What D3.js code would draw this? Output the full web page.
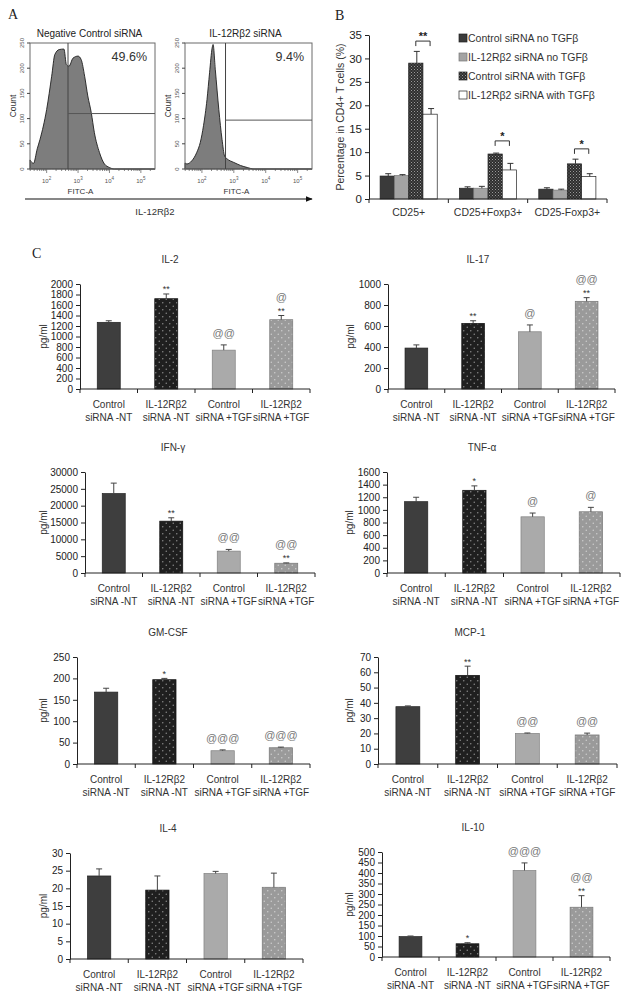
<!DOCTYPE html>
<html><head><meta charset="utf-8">
<script src="https://cdn.jsdelivr.net/npm/d3@7"></script>
<style>
body{margin:0;background:#fff}
svg{display:block}
text{font-family:"Liberation Sans",Arial,sans-serif;fill:#222}
</style>
</head><body>
<svg id="c" width="626" height="999"></svg>
<script>
// ---------- Panel A data ----------
const histLeftLog   = [1.47,1.53,1.58,1.70,1.79,2.00,2.16,2.26,2.40,2.55,2.63,2.71,2.84,3.00,3.10,3.21,3.31,3.42,3.52,3.68,3.84,4.00,4.15,5.45];
const histLeftCount = [18,13,11,40,59,118,184,227,237,238,207,204,220,224,217,184,145,112,72,33,10,3,0,0];
const histRightLog   = [1.47,1.53,1.68,1.84,1.95,2.05,2.16,2.24,2.32,2.35,2.42,2.53,2.63,2.71,2.79,2.89,3.00,3.21,3.42,3.63,5.45];
const histRightCount = [12,10,16,33,53,86,138,191,240,247,197,118,59,26,20,16,13,7,3,0,0];
const histTitles = ["Negative Control siRNA","IL-12Rβ2  siRNA"];
const histPercents = ["49.6%","9.4%"];
const gateLogs = [2.68,2.74];
const gateCounts = [110,97];
const histCountTicks = [0,50,100,150,200,250];
const histDecades = [2,3,4,5];

// ---------- Panel B data ----------
const bCategories = ["CD25+","CD25+Foxp3+","CD25-Foxp3+"];
const bSeries = ["Control siRNA no TGFβ","IL-12Rβ2 siRNA no TGFβ","Control siRNA with TGFβ","IL-12Rβ2 siRNA with TGFβ"];
const bCtrlNo = [4.9,2.3,2.1],   bCtrlNoErr = [0.5,0.3,0.3];
const bIl12No = [5.0,2.3,1.9],   bIl12NoErr = [0.2,0.4,0.2];
const bCtrlTgf = [29.0,9.6,7.5], bCtrlTgfErr = [2.5,0.2,1.0];
const bIl12Tgf = [18.1,6.2,4.8], bIl12TgfErr = [1.2,1.4,0.6];
const bBracketLevels = [33.7,12.4,10.7];
const bBracketLabels = ["**","*","*"];
const bTicks = [0,5,10,15,20,25,30,35];

// ---------- Panel C data ----------
const cytoLine1 = ["Control","IL-12Rβ2","Control","IL-12Rβ2"];
const cytoLine2 = ["siRNA -NT","siRNA -NT","siRNA +TGF","siRNA +TGF"];

const il2Values = [1270,1720,740,1320], il2Errors = [30,90,100,80];
const il2Stars = ["","**","","**"], il2Ats = ["","","@@","@"];
const il2Ticks = [0,200,400,600,800,1000,1200,1400,1600,1800,2000];

const il17Values = [390,625,545,835], il17Errors = [30,25,65,35];
const il17Stars = ["","**","","**"], il17Ats = ["","","@","@@"];
const il17Ticks = [0,200,400,600,800,1000];

const ifnValues = [23600,15400,6500,2900], ifnErrors = [3100,1000,500,100];
const ifnStars = ["","**","","**"], ifnAts = ["","","@@","@@"];
const ifnTicks = [0,5000,10000,15000,20000,25000,30000];

const tnfValues = [1130,1310,890,970], tnfErrors = [70,70,60,70];
const tnfStars = ["","*","",""], tnfAts = ["","","@","@"];
const tnfTicks = [0,200,400,600,800,1000,1200,1400,1600];

const gmValues = [168,197,31,38], gmErrors = [9,3,2,1.5];
const gmStars = ["","*","",""], gmAts = ["","","@@@","@@@"];
const gmTicks = [0,50,100,150,200,250];

const mcpValues = [37.5,58,20,19], mcpErrors = [0.5,6,0.3,1.2];
const mcpStars = ["","**","",""], mcpAts = ["","","@@","@@"];
const mcpTicks = [0,10,20,30,40,50,60,70];

const il4Values = [23.5,19.5,24.2,20.3], il4Errors = [2,4,0.6,4];
const il4Stars = ["","","",""], il4Ats = ["","","",""];
const il4Ticks = [0,5,10,15,20,25,30];

const il10Values = [97,63,412,237], il10Errors = [3,5,36,55];
const il10Stars = ["","*","","**"], il10Ats = ["","","@@@","@@"];
const il10Ticks = [0,50,100,150,200,250,300,350,400,450,500];

// ---------- drawing ----------
const svg = d3.select("#c");
svg.append("rect").attr("width",626).attr("height",999).attr("fill","#fff");
const defs = svg.append("defs");

function dotPattern(id,bg,dot){
  const p = defs.append("pattern").attr("id",id).attr("patternUnits","userSpaceOnUse").attr("width",7).attr("height",7);
  p.append("rect").attr("width",7).attr("height",7).attr("fill",bg);
  p.append("circle").attr("cx",1.75).attr("cy",1.75).attr("r",0.75).attr("fill",dot);
  p.append("circle").attr("cx",5.25).attr("cy",5.25).attr("r",0.75).attr("fill",dot);
}
dotPattern("dotsDark","#1f1f1f","#8a8a8a");
dotPattern("dotsGrey","#9a9a9a","#cfcfcf");
{
  const p = defs.append("pattern").attr("id","checker").attr("patternUnits","userSpaceOnUse").attr("width",3).attr("height",3);
  p.append("rect").attr("width",3).attr("height",3).attr("fill","#2e2e2e");
  p.append("rect").attr("x",0).attr("y",0).attr("width",1).attr("height",1).attr("fill","#9a9a9a");
  p.append("rect").attr("x",1.5).attr("y",1.5).attr("width",1).attr("height",1).attr("fill","#7a7a7a");
}
defs.append("marker").attr("id","arrow").attr("viewBox","0 0 10 10").attr("refX",9).attr("refY",5)
  .attr("markerWidth",6).attr("markerHeight",6).attr("orient","auto")
  .append("path").attr("d","M0,1 L10,5 L0,9 z").attr("fill","#111");

// Panel labels
svg.append("text").attr("x",8).attr("y",19).text("A").style("font-family","'Liberation Serif',serif").style("font-size","14px");
svg.append("text").attr("x",335).attr("y",20).text("B").style("font-family","'Liberation Serif',serif").style("font-size","14px");
svg.append("text").attr("x",32).attr("y",258).text("C").style("font-family","'Liberation Serif',serif").style("font-size","14px");

// ---------- Panel A ----------
const histLayouts = [
  {left:30,right:155,top:43,bottom:169,logs:histLeftLog,counts:histLeftCount},
  {left:185,right:312,top:43,bottom:169,logs:histRightLog,counts:histRightCount}
];
histLayouts.forEach((o,i)=>{
  const x = d3.scaleLinear().domain([1.47,5.45]).range([o.left,o.right]);
  const y = d3.scaleLinear().domain([0,250]).range([o.bottom,o.top]);
  const g = svg.append("g");
  const area = d3.area().x(d=>x(d[0])).y0(y(0)).y1(d=>y(d[1])).curve(d3.curveMonotoneX);
  g.append("path").datum(d3.zip(o.logs,o.counts)).attr("d",area)
    .attr("fill","#7d7d7d").attr("stroke","#1e1e1e").attr("stroke-width",0.9);
  g.append("rect").attr("x",o.left).attr("y",o.top).attr("width",o.right-o.left).attr("height",o.bottom-o.top)
    .attr("fill","none").attr("stroke","#6a6a6a").attr("stroke-width",1);
  g.append("line").attr("x1",x(gateLogs[i])).attr("x2",x(gateLogs[i])).attr("y1",o.top).attr("y2",o.bottom)
    .attr("stroke","#444").attr("stroke-width",1);
  g.append("line").attr("x1",x(gateLogs[i])).attr("x2",o.right).attr("y1",y(gateCounts[i])).attr("y2",y(gateCounts[i]))
    .attr("stroke","#555").attr("stroke-width",1);
  g.append("text").attr("x",o.right-8).attr("y",o.top+18).attr("text-anchor","end")
    .style("font-size","12.5px").style("fill","#333").text(histPercents[i]);
  g.append("text").attr("x",(o.left+o.right)/2-3).attr("y",o.top-6).attr("text-anchor","middle")
    .style("font-size","10px").text(histTitles[i]);
  histCountTicks.forEach(t=>{
    g.append("line").attr("x1",o.left-3).attr("x2",o.left).attr("y1",y(t)).attr("y2",y(t)).attr("stroke","#444");
    g.append("text").attr("transform",`translate(${o.left-6},${y(t)}) rotate(-90)`).attr("text-anchor","middle")
      .style("font-size","6px").style("fill","#555").text(t);
  });
  g.append("text").attr("transform",`translate(${o.left-14},${(o.top+o.bottom)/2}) rotate(-90)`).attr("text-anchor","middle")
    .style("font-size","8.5px").style("fill","#333").text("Count");
  for(let d=1; d<=5; d++){
    for(let m=1;m<10;m++){
      const v = d+Math.log10(m);
      if(v<1.47||v>5.45) continue;
      const len = m===1?4:2;
      g.append("line").attr("x1",x(v)).attr("x2",x(v)).attr("y1",o.bottom).attr("y2",o.bottom+len).attr("stroke","#555").attr("stroke-width",0.7);
    }
  }
  histDecades.forEach(d=>{
    const t = g.append("text").attr("x",x(d)).attr("y",o.bottom+14).attr("text-anchor","middle").style("font-size","6px").style("fill","#555");
    t.append("tspan").text("10");
    t.append("tspan").attr("dy",-3).style("font-size","4.5px").text(d);
  });
  g.append("text").attr("x",(o.left+o.right)/2-12).attr("y",o.bottom+25).attr("text-anchor","middle")
    .style("font-size","8px").style("fill","#333").text("FITC-A");
});
svg.append("line").attr("x1",25).attr("x2",312).attr("y1",199).attr("y2",199)
  .attr("stroke","#111").attr("stroke-width",1.2).attr("marker-end","url(#arrow)");
svg.append("text").attr("x",155).attr("y",215).attr("text-anchor","middle").style("font-size","9.5px").style("fill","#333").text("IL-12Rβ2");

// ---------- Panel B ----------
{
  const g = svg.append("g");
  const left=369,right=607,y0=199,top=35;
  const x0 = d3.scaleBand().domain(bCategories).range([left,right]).paddingInner(0.28).paddingOuter(0.14);
  const x1 = d3.scaleBand().domain(d3.range(4)).range([0,x0.bandwidth()]);
  const y = d3.scaleLinear().domain([0,35]).range([y0,top]);
  const vals = [bCtrlNo,bIl12No,bCtrlTgf,bIl12Tgf];
  const errs = [bCtrlNoErr,bIl12NoErr,bCtrlTgfErr,bIl12TgfErr];
  const fills = ["#3a3a3a","#a3a3a3","url(#checker)","#ffffff"];
  const strokes = ["#222","#777","#222","#222"];
  bCategories.forEach((c,ci)=>{
    vals.forEach((s,si)=>{
      const bx = x0(c)+x1(si);
      g.append("rect").attr("x",bx).attr("y",y(s[ci])).attr("width",x1.bandwidth()).attr("height",y0-y(s[ci]))
        .attr("fill",fills[si]).attr("stroke",strokes[si]).attr("stroke-width",0.7);
      const cx = bx+x1.bandwidth()/2+1, et = y(s[ci]+errs[si][ci]);
      g.append("line").attr("x1",cx).attr("x2",cx).attr("y1",y(s[ci])).attr("y2",et).attr("stroke","#333");
      g.append("line").attr("x1",cx-3).attr("x2",cx+3).attr("y1",et).attr("y2",et).attr("stroke","#333");
    });
    const xa = x0(c)+x1(2)+x1.bandwidth()/2, xb = x0(c)+x1(3)+x1.bandwidth()/2;
    const by = y(bBracketLevels[ci]);
    g.append("path").attr("d",`M${xa},${by+5}V${by}H${xb}V${by+5}`).attr("fill","none").attr("stroke","#333");
    g.append("text").attr("x",(xa+xb)/2).attr("y",by-1).attr("text-anchor","middle").style("font-size","11px").style("font-weight","bold").text(bBracketLabels[ci]);
    g.append("text").attr("x",x0(c)+x0.bandwidth()/2).attr("y",216).attr("text-anchor","middle").style("font-size","10.5px").style("fill","#333").text(c);
  });
  const ax = g.append("g").attr("transform",`translate(${left},0)`)
    .call(d3.axisLeft(y).tickValues(bTicks).tickFormat(d3.format("d")).tickSize(4).tickSizeOuter(0).tickPadding(3));
  ax.selectAll("text").style("font-size","11.5px").style("font-family","'Liberation Sans',Arial,sans-serif").attr("fill","#333");
  ax.selectAll("line,path").attr("stroke","#222");
  g.append("line").attr("x1",left).attr("x2",right).attr("y1",y0).attr("y2",y0).attr("stroke","#222");
  const bounds = [left, ...bCategories.map(c=>x0(c)+x0.bandwidth()+x0.step()*0.14)];
  bounds.forEach(b=>g.append("line").attr("x1",b).attr("x2",b).attr("y1",y0).attr("y2",y0+4).attr("stroke","#222"));
  g.append("text").attr("transform",`translate(${left-25},${(y0+top)/2}) rotate(-90)`).attr("text-anchor","middle")
    .style("font-size","10.5px").style("fill","#333").text("Percentage in CD4+ T cells (%)");
  bSeries.forEach((s,i)=>{
    const ly = 38+i*19;
    g.append("rect").attr("x",459).attr("y",ly-4).attr("width",8).attr("height",8)
      .attr("fill",fills[i]).attr("stroke",strokes[i]).attr("stroke-width",0.7);
    g.append("text").attr("x",468).attr("y",ly+4).style("font-size","10.5px").style("fill","#333").text(s);
  });
}

// ---------- Panel C ----------
const cytoPanels = [
  {title:"IL-2",  tx:170,left:80, right:310,y0:389,top:284,max:2000, ticks:il2Ticks, v:il2Values, e:il2Errors, s:il2Stars, a:il2Ats, yl:43},
  {title:"IL-17", tx:478,left:388,right:615,y0:389,top:284,max:1000, ticks:il17Ticks,v:il17Values,e:il17Errors,s:il17Stars,a:il17Ats,yl:350},
  {title:"IFN-γ", tx:173,left:85, right:315,y0:573,top:472,max:30000,ticks:ifnTicks, v:ifnValues, e:ifnErrors, s:ifnStars, a:ifnAts, yl:43},
  {title:"TNF-α", tx:482,left:387,right:620,y0:573,top:472,max:1600, ticks:tnfTicks, v:tnfValues, e:tnfErrors, s:tnfStars, a:tnfAts, yl:349},
  {title:"GM-CSF",tx:168,left:77, right:310,y0:764,top:657,max:250,  ticks:gmTicks,  v:gmValues,  e:gmErrors,  s:gmStars,  a:gmAts,  yl:43},
  {title:"MCP-1", tx:470,left:378,right:617,y0:764,top:657,max:70,   ticks:mcpTicks, v:mcpValues, e:mcpErrors, s:mcpStars, a:mcpAts, yl:349},
  {title:"IL-4",  tx:168,left:70, right:303,y0:959,top:853,max:30,   ticks:il4Ticks, v:il4Values, e:il4Errors, s:il4Stars, a:il4Ats, yl:43},
  {title:"IL-10", tx:473,left:382,right:610,y0:957,top:852,max:500,  ticks:il10Ticks,v:il10Values,e:il10Errors,s:il10Stars,a:il10Ats,yl:349}
];
const cFills = ["#3e3e3e","url(#dotsDark)","#aaaaaa","url(#dotsGrey)"];
const cStrokes = ["#222","#111","#808080","#777"];
cytoPanels.forEach(p=>{
  const g = svg.append("g");
  const x = d3.scaleBand().domain(d3.range(4)).range([p.left,p.right]).paddingInner(0.6).paddingOuter(0.3);
  const y = d3.scaleLinear().domain([0,p.max]).range([p.y0,p.top]);
  g.append("text").attr("x",p.tx).attr("y",p.top-21).attr("text-anchor","middle").style("font-size","10px").style("fill","#333").text(p.title);
  p.v.forEach((v,i)=>{
    const bx = x(i), cx = bx+x.bandwidth()/2;
    g.append("rect").attr("x",bx).attr("y",y(v)).attr("width",x.bandwidth()).attr("height",p.y0-y(v))
      .attr("fill",cFills[i]).attr("stroke",cStrokes[i]).attr("stroke-width",0.7);
    const et = y(v+p.e[i]);
    g.append("line").attr("x1",cx).attr("x2",cx).attr("y1",y(v)).attr("y2",et).attr("stroke","#444");
    g.append("line").attr("x1",cx-3).attr("x2",cx+3).attr("y1",et).attr("y2",et).attr("stroke","#444");
    if(p.s[i]) g.append("text").attr("x",cx).attr("y",et-1.5).attr("text-anchor","middle").style("font-size","9px").style("fill","#333").text(p.s[i]);
    if(p.a[i]) g.append("text").attr("x",cx).attr("y",et-(p.s[i]?15:8)).attr("text-anchor","middle")
      .style("font-size","11px").style("fill","#777").text(p.a[i]);
    g.append("text").attr("x",cx).attr("y",p.y0+19).attr("text-anchor","middle").style("font-size","10px").style("fill","#333").text(cytoLine1[i]);
    g.append("text").attr("x",cx).attr("y",p.y0+32).attr("text-anchor","middle").style("font-size","10px").style("fill","#333").text(cytoLine2[i]);
  });
  const ax = g.append("g").attr("transform",`translate(${p.left},0)`)
    .call(d3.axisLeft(y).tickValues(p.ticks).tickFormat(d3.format("d")).tickSize(4).tickSizeOuter(0).tickPadding(3));
  ax.selectAll("text").style("font-size","10px").style("font-family","'Liberation Sans',Arial,sans-serif").attr("fill","#333");
  ax.selectAll("line,path").attr("stroke","#222");
  g.append("line").attr("x1",p.left).attr("x2",p.right).attr("y1",p.y0).attr("y2",p.y0).attr("stroke","#222");
  const bounds = [p.left, ...d3.range(4).map(i=>x(i)+x.bandwidth()/2+x.step()/2)];
  bounds.forEach(b=>g.append("line").attr("x1",b).attr("x2",b).attr("y1",p.y0).attr("y2",p.y0+4).attr("stroke","#222"));
  g.append("text").attr("transform",`translate(${p.yl},${(p.y0+p.top)/2}) rotate(-90)`).attr("text-anchor","middle")
    .attr("dy","0.35em").style("font-size","10px").style("fill","#333").text("pg/ml");
});
</script>
</body></html>
